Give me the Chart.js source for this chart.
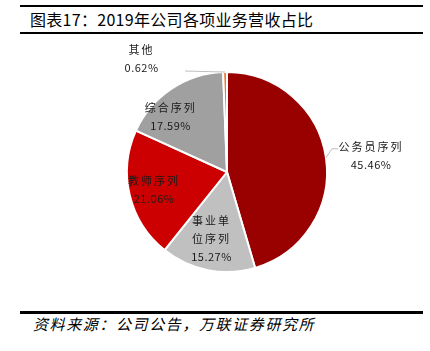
<!DOCTYPE html>
<html lang="zh">
<head>
<meta charset="UTF-8">
<script src="https://cdn.jsdelivr.net/npm/chart.js"></script>
<title>2019年公司各项业务营收占比</title>
<style>
  html, body { margin: 0; padding: 0; background: #fff; }
  body { width: 430px; height: 351px; position: relative; overflow: hidden;
         font-family: "Noto Sans CJK SC", "Noto Sans", sans-serif; color: #000; }
  .rule { position: absolute; left: 20px; width: 403px; background: #000; }
  #title { position: absolute; left: 30px; top: 9px; font-size: 16px; line-height: 20px; letter-spacing: 0.3px; }
  #source { position: absolute; left: 33px; top: 315px; font-size: 15px; line-height: 18px;
            font-style: italic; letter-spacing: 1.6px; }
  #wrap { position: absolute; left: 0; top: 0; width: 430px; height: 351px; }
</style>
</head>
<body>
  <div class="rule" style="top:5px;height:2px"></div>
  <div id="title">图表17：2019年公司各项业务营收占比</div>
  <div class="rule" style="top:32px;height:2px"></div>
  <div class="rule" style="top:311px;height:3px"></div>
  <div id="source">资料来源：公司公告，万联证券研究所</div>
  <div id="wrap"><canvas id="myChart"></canvas></div>
<script>
// 数据
const names = ['公务员序列', '事业单位序列', '教师序列', '综合序列', '其他'];
const shares = [45.46, 15.27, 21.06, 17.59, 0.62];
const colors = ['#990000', '#c0c0c0', '#cc0000', '#a0a0a0', '#ed7d31'];

// 标签放置: [角度(从12点顺时针), 半径倍数]
const labelPlace = [[83.5, 1.45], [193, 0.69], [256.5, 0.75], [314.5, 0.79], [323, 1.42]];
// 引线 (相对扇形外缘中点的偏移)
const leaders = { 0: [[6, -9], [12, -9]], 4: [[-40, -1]] };

function splitName(s) {
    if (s.length > 5) return [s.slice(0, 3), s.slice(3)];
    return [s];
}

const sliceLabels = {
    id: 'sliceLabels',
    afterDatasetsDraw(chart) {
        const ctx = chart.ctx;
        const meta = chart.getDatasetMeta(0);
        ctx.save();
        meta.data.forEach(function (arc, i) {
            const R = arc.outerRadius;
            // 引线
            if (leaders[i]) {
                const mid = (arc.startAngle + arc.endAngle) / 2;
                const ex = arc.x + Math.cos(mid) * R;
                const ey = arc.y + Math.sin(mid) * R;
                ctx.strokeStyle = '#bfbfbf';
                ctx.lineWidth = 1;
                ctx.beginPath();
                ctx.moveTo(ex, ey);
                leaders[i].forEach(function (o) { ctx.lineTo(ex + o[0], ey + o[1]); });
                ctx.stroke();
            }
            const p = labelPlace[i];
            const a = (p[0] - 90) * Math.PI / 180;
            const x = arc.x + Math.cos(a) * R * p[1];
            const y = arc.y + Math.sin(a) * R * p[1];
            const lines = splitName(names[i]).concat([shares[i].toFixed(2) + '%']);
            const lh = 18;
            const y0 = y - (lines.length - 1) * lh / 2;
            ctx.fillStyle = '#1a1a1a';
            ctx.font = '11px "Noto Sans CJK SC", sans-serif';
            ctx.textAlign = 'center';
            ctx.textBaseline = 'middle';
            lines.forEach(function (t, k) {
                ctx.letterSpacing = /%/.test(t) ? '0.5px' : '2px';
                ctx.fillText(t, x, y0 + k * lh);
            });
        });
        ctx.restore();
    }
};

const config = {
    type: 'pie',
    data: {
        labels: names,
        datasets: [{
            data: shares,
            backgroundColor: colors,
            borderColor: '#ffffff',
            borderWidth: 2
        }]
    },
    options: {
        responsive: false,
        animation: false,
        layout: { padding: { left: 126, right: 102, top: 71, bottom: 78 } },
        plugins: {
            legend: { display: false },
            tooltip: { enabled: false }
        }
    },
    plugins: [sliceLabels]
};

const cv = document.getElementById('myChart');
cv.width = 430;
cv.height = 351;
new Chart(cv, config);
</script>
</body>
</html>
